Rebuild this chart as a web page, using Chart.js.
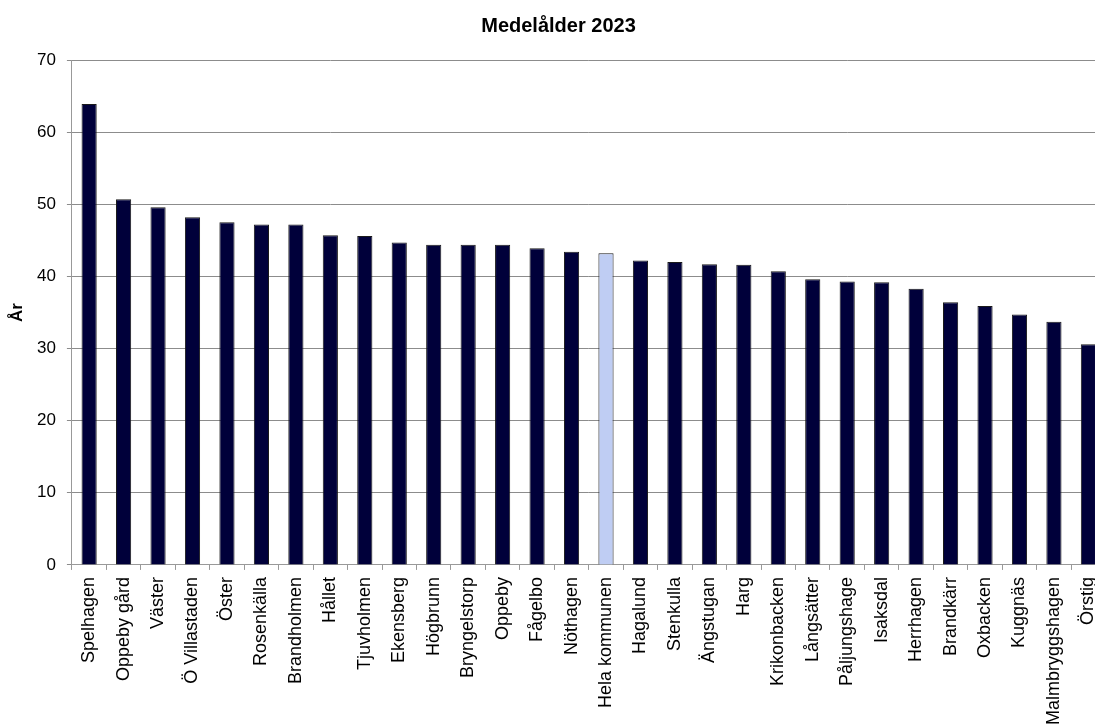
<!DOCTYPE html>
<html>
<head>
<meta charset="utf-8">
<script src="https://cdn.jsdelivr.net/npm/chart.js@4"></script>
<style>
  html, body { margin: 0; padding: 0; background: #fff; overflow: hidden; }
  #wrap { width: 1117px; height: 732px; }
</style>
</head>
<body>
<div id="wrap"><canvas id="ageChart"></canvas></div>
<script>
const areas = [
  "Spelhagen", "Oppeby gård", "Väster", "Ö Villastaden", "Öster", "Rosenkälla",
  "Brandholmen", "Hållet", "Tjuvholmen", "Ekensberg", "Högbrunn", "Bryngelstorp",
  "Oppeby", "Fågelbo", "Nöthagen", "Hela kommunen", "Hagalund", "Stenkulla",
  "Ängstugan", "Harg", "Krikonbacken", "Långsätter", "Påljungshage", "Isaksdal",
  "Herrhagen", "Brandkärr", "Oxbacken", "Kuggnäs", "Malmbryggshagen", "Örstig"
];
const meanAge = [
  63.9, 50.7, 49.6, 48.2, 47.5, 47.2,
  47.2, 45.7, 45.6, 44.7, 44.4, 44.4,
  44.4, 43.9, 43.4, 43.2, 42.2, 42.0,
  41.7, 41.6, 40.7, 39.6, 39.3, 39.2,
  38.3, 36.4, 35.9, 34.7, 33.7, 30.6
];
const totalLabel = "Hela kommunen";
const yTicks = [0, 10, 20, 30, 40, 50, 60, 70];

const font = "'Liberation Sans', Arial, sans-serif";
const barColors = areas.map(a => a === totalLabel ? "#bfcdf3" : "#00003a");

const ctx = document.getElementById("ageChart").getContext("2d");
new Chart(ctx, {
  type: "bar",
  data: {
    labels: areas,
    datasets: [{
      label: "Medelålder",
      data: meanAge,
      backgroundColor: barColors,
      borderColor: "#1a1a1a",
      borderWidth: 1,
      barPercentage: 0.44,
      categoryPercentage: 1.0
    }]
  },
  options: {
    responsive: true,
    maintainAspectRatio: false,
    animation: false,
    layout: { padding: { left: 0, right: 0, top: 0, bottom: 0 } },
    plugins: {
      legend: { display: false },
      tooltip: { enabled: false },
      title: {
        display: true,
        text: "Medelålder 2023",
        color: "#000",
        font: { family: font, size: 20, weight: "bold" },
        padding: { top: 14, bottom: 22 }
      }
    },
    scales: {
      x: {
        grid: {
          offset: true,
          drawOnChartArea: false,
          drawTicks: true,
          tickLength: 5,
          color: "#999"
        },
        border: { color: "#999", width: 1 },
        ticks: {
          autoSkip: false,
          maxRotation: 90,
          minRotation: 90,
          padding: 7,
          color: "#000",
          font: { family: font, size: 18 }
        }
      },
      y: {
        min: 0,
        max: 70,
        afterBuildTicks: axis => { axis.ticks = yTicks.map(v => ({ value: v })); },
        grid: {
          color: "#8c8c8c",
          lineWidth: 1,
          drawTicks: true,
          tickLength: 5
        },
        border: { color: "#999", width: 1 },
        ticks: {
          padding: 11,
          color: "#000",
          font: { family: font, size: 17 }
        },
        title: {
          display: true,
          text: "År",
          color: "#000",
          font: { family: font, size: 17, weight: "bold", lineHeight: 1 },
          padding: { top: 9, bottom: 0 }
        }
      }
    }
  }
});
</script>
</body>
</html>
